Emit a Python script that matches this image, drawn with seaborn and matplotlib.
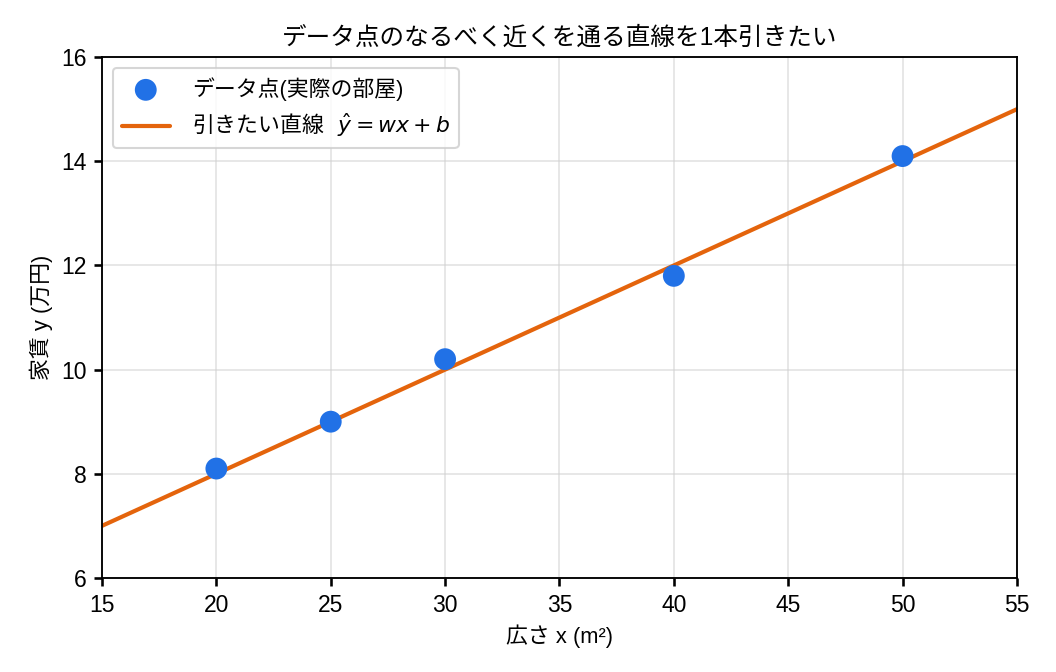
import numpy as np
import pandas as pd
import matplotlib
matplotlib.use("Agg")
import matplotlib.pyplot as plt
import seaborn as sns

area = [20, 25, 30, 40, 50]
rent = [8.1, 9.0, 10.2, 11.8, 14.1]
line_x = [15, 55]
line_y = [7.0, 15.0]

sns.set_theme(style="ticks")
plt.rcParams['font.family'] = ['Liberation Sans', 'Noto Sans CJK JP', 'DejaVu Sans']
plt.rcParams['axes.unicode_minus'] = False
plt.rcParams['text.color'] = 'black'
plt.rcParams['axes.labelcolor'] = 'black'

fig, ax = plt.subplots(figsize=(7.04, 4.48), dpi=150)
fig.subplots_adjust(left=0.0966, right=0.963, top=0.915, bottom=0.140)

df_pts = pd.DataFrame({"x": area, "y": rent})
df_line = pd.DataFrame({"x": line_x, "y": line_y})

sns.scatterplot(data=df_pts, x="x", y="y", ax=ax, s=110, color="#2171e6",
                edgecolor="none", label="データ点(実際の部屋)", zorder=3)
sns.lineplot(data=df_line, x="x", y="y", ax=ax, color="#e4640c", linewidth=2,
             label=r"引きたい直線   $\hat{y} = wx + b$", zorder=2)

ax.set_xlim(15, 55)
ax.set_ylim(6, 16)
ax.set_xticks(range(15, 56, 5))
ax.set_yticks(range(6, 17, 2))
ax.grid(True, color="#d0d0d0", alpha=0.6, linewidth=0.8)
for s in ax.spines.values():
    s.set_color("black")
    s.set_linewidth(0.9)
ax.tick_params(labelsize=11, colors="black", length=4)

ax.set_xlabel("広さ x (m²)", fontsize=10.5, color="black")
ax.set_ylabel("家賃 y (万円)", fontsize=10.5, color="black")
ax.set_title("データ点のなるべく近くを通る直線を1本引きたい", fontsize=11.8, color="black")
leg = ax.legend(loc="upper left", fontsize=10.5, frameon=True, handlelength=2.2, handletextpad=1.0)
leg.get_frame().set_edgecolor("#cccccc")
leg.get_texts()[1].set_fontfamily("Noto Sans CJK JP")
for t in leg.get_texts():
    t.set_color("black")

fig.savefig("out.png", dpi=150)
